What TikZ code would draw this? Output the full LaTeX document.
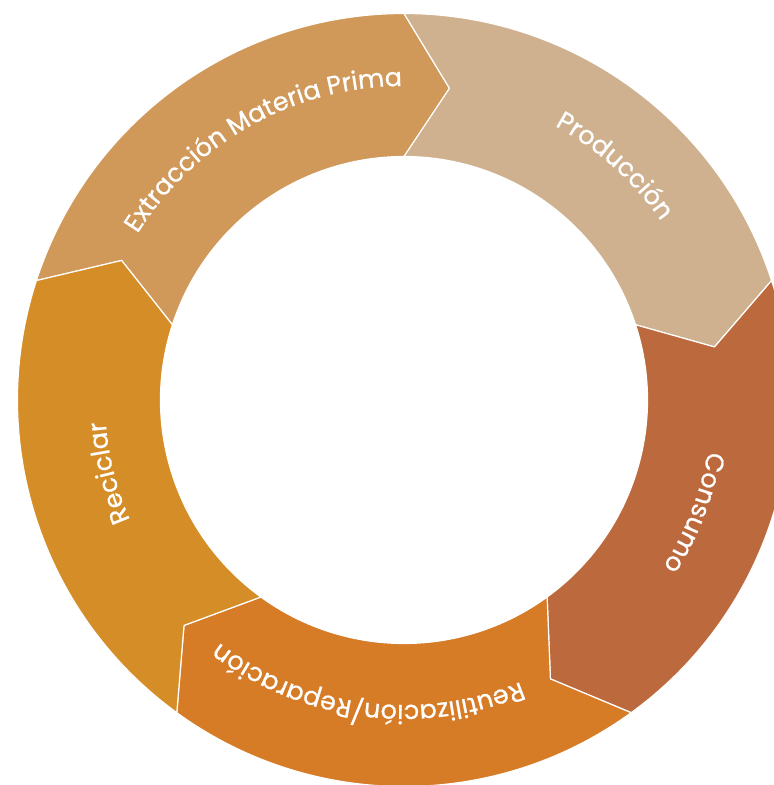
\documentclass[tikz,border=0pt]{standalone}
\usepackage{fontspec}
\setmainfont{Poppins}
\newfontfamily\ringfamily{Poppins}[FakeBold=0.7]
\usetikzlibrary{decorations.text}

\definecolor{extrcol}{HTML}{D09859}
\definecolor{prodcol}{HTML}{CFB18F}
\definecolor{conscol}{HTML}{BC6A3D}
\definecolor{reutcol}{HTML}{D67B26}
\definecolor{recicol}{HTML}{D58D27}
\newcommand{\lblfont}{\ringfamily\fontsize{25.5}{29}\selectfont}

\begin{document}
\begin{tikzpicture}[x=1pt,y=1pt,
                    segment/.style={draw=white,line width=1.2pt,line join=round},
                    arclabel/.style={decorate,decoration={text along path,
                      text color=white,text align=center}}]

  \useasboundingbox (-404,-385) rectangle (370,400);

  % ring pieces, clockwise, each one points into the next
  \foreach \a/\col in {162/extrcol,90/prodcol,18/conscol,-54/reutcol,-126/recicol}
    \path[segment,fill=\col] (\a:386.5) arc[start angle=\a,end angle=\a-72,radius=386.5]
      -- (\a-80.3:315) -- (\a-72:243.5) arc[start angle=\a-72,end angle=\a,radius=243.5]
      -- (\a-8.3:315) -- cycle;

  % labels follow the ring
  \path[arclabel,decoration={text={|\lblfont|Extracción Materia Prima}}]
    (179.2:314) arc[start angle=179.2,end angle=59.2,radius=314];
  \path[arclabel,decoration={text={|\lblfont|Producción}}]
    (108:313) arc[start angle=108,end angle=-12,radius=313];
  \path[arclabel,decoration={text={|\lblfont|Consumo}}]
    (38.8:308) arc[start angle=38.8,end angle=-81.2,radius=308];
  \path[arclabel,decoration={text={|\lblfont|Reutilización/Reparación}}]
    (-37.4:305) arc[start angle=-37.4,end angle=-157.4,radius=305];
  \path[arclabel,decoration={text={|\lblfont|Reciclar}}]
    (253.9:299) arc[start angle=253.9,end angle=133.9,radius=299];
\end{tikzpicture}
\end{document}
